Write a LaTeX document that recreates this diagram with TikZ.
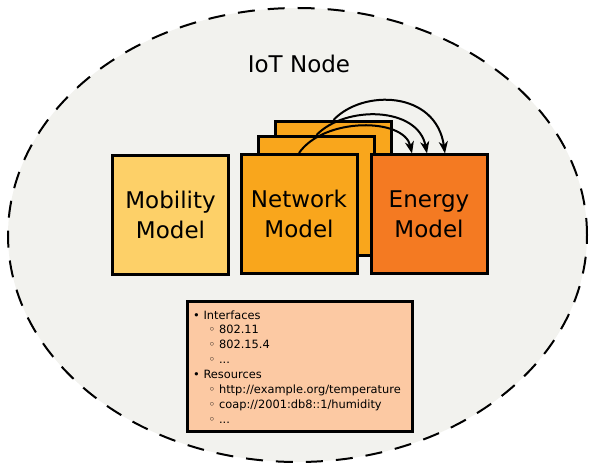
\documentclass[tikz,border=0pt]{standalone}
\usepackage{fontspec}
\setmainfont{DejaVu Sans}
\usetikzlibrary{arrows.meta}
\definecolor{bgfill}{HTML}{F2F2EE}
\definecolor{mobfill}{HTML}{FDD068}
\definecolor{netfill}{HTML}{F9A61C}
\definecolor{enfill}{HTML}{F47A22}
\definecolor{infofill}{HTML}{FCC9A3}
\tikzset{
  modelbox/.style={draw=black, line width=3pt, minimum width=116pt, minimum height=119pt,
    inner sep=0pt, align=center, font=\fontsize{23}{30}\selectfont},
  li/.style={anchor=base west, inner sep=0pt, font=\fontsize{11.4}{14}\selectfont},
  flow/.style={line width=2pt, -{Stealth[length=12pt,width=9pt,inset=3.5pt]}}
}
\begin{document}
\begin{tikzpicture}[x=1pt,y=1pt]
\useasboundingbox (0,0) rectangle (589,464);
\draw[fill=bgfill, line width=2pt, dash pattern=on 17pt off 13pt] (297.5,229) ellipse [x radius=289.5, y radius=227];
\node[anchor=base, inner sep=0pt, font=\fontsize{23}{30}\selectfont] (title) at (299,391) {IoT Node};
\node[modelbox, fill=mobfill] (mob) at (170.5,249) {Mobility\\Model};
\node[modelbox, fill=netfill] (net3) at (333.5,283) {};
\node[modelbox, fill=netfill] (net2) at (316.5,268) {};
\node[modelbox, fill=netfill] (net) at (299,250) {Network\\Model};
\node[modelbox, fill=enfill] (en) at (429,249.5) {Energy\\Model};
\draw[flow] (net.north) .. controls +(25,36) and +(-8,36) .. ([xshift=-17pt]en.north);
\draw[flow] (net2.north) .. controls +(29,30) and +(-9,47) .. ([xshift=-2pt]en.north);
\draw[flow] (net3.north) .. controls +(29,31) and +(-9,63) .. ([xshift=16pt]en.north);
\node[draw=black, line width=2.5pt, fill=infofill, minimum width=225pt, minimum height=130pt, inner sep=0pt] (info) at (300,97.5) {};
\node[li] (l1) at (193,145) {• Interfaces};
\node[li] (l2) at (208.5,130.1) {◦ 802.11};
\node[li] (l3) at (208.5,115.3) {◦ 802.15.4};
\node[li] (l4) at (208.5,100.4) {◦ ...};
\node[li] (l5) at (193,85.6) {• Resources};
\node[li] (l6) at (208.5,70.7) {◦ http://example.org/temperature};
\node[li] (l7) at (208.5,55.8) {◦ coap://2001:db8::1/humidity};
\node[li] (l8) at (208.5,41) {◦ ...};
\end{tikzpicture}
\end{document}
